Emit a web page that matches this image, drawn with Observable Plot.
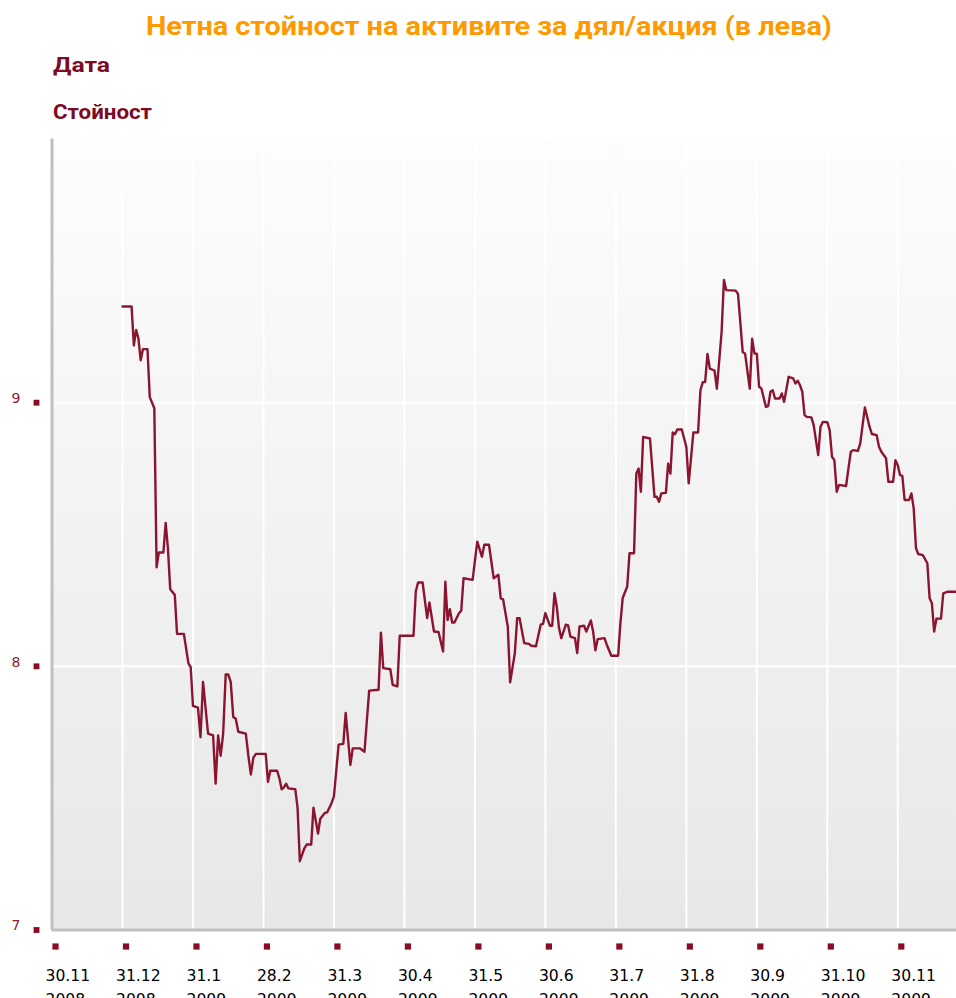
<!DOCTYPE html>
<html>
<head>
<meta charset="utf-8">
<script src="https://cdn.jsdelivr.net/npm/d3@7"></script>
<script src="https://cdn.jsdelivr.net/npm/@observablehq/plot@0.6"></script>
<style>
  html, body { margin: 0; padding: 0; background: #fff; }
  #wrap { position: relative; width: 956px; height: 998px; overflow: hidden; }
  #wrap svg { display: block; }
</style>
</head>
<body>
<div id="wrap"><div id="head"></div><div id="chart"></div></div>
<script>
// ---- data ----
const titleText = "Нетна стойност на активите за дял/акция (в лева)";
const xLabelText = "Дата";
const yLabelText = "Стойност";

const tickDates = ["2008-11-30","2008-12-31","2009-01-31","2009-02-28","2009-03-31","2009-04-30",
  "2009-05-31","2009-06-30","2009-07-31","2009-08-31","2009-09-30","2009-10-31","2009-11-30"];
const yTicks = [7, 8, 9];

const dates = [
  "2008-12-31","2009-01-04","2009-01-05","2009-01-06","2009-01-07","2009-01-08","2009-01-09","2009-01-11",
  "2009-01-12","2009-01-14","2009-01-15","2009-01-16","2009-01-18","2009-01-19","2009-01-20","2009-01-21",
  "2009-01-23","2009-01-24","2009-01-27","2009-01-29","2009-01-30","2009-01-31","2009-02-02","2009-02-03",
  "2009-02-04","2009-02-06","2009-02-08","2009-02-09","2009-02-10","2009-02-11","2009-02-12","2009-02-13",
  "2009-02-14","2009-02-15","2009-02-16","2009-02-17","2009-02-18","2009-02-21","2009-02-22","2009-02-23",
  "2009-02-24","2009-02-25","2009-03-01","2009-03-02","2009-03-03","2009-03-06","2009-03-07","2009-03-08",
  "2009-03-09","2009-03-10","2009-03-11","2009-03-14","2009-03-15","2009-03-16","2009-03-18","2009-03-19",
  "2009-03-21","2009-03-22","2009-03-24","2009-03-25","2009-03-27","2009-03-28","2009-03-30","2009-03-31",
  "2009-04-02","2009-04-04","2009-04-05","2009-04-07","2009-04-08","2009-04-11","2009-04-13","2009-04-15",
  "2009-04-19","2009-04-20","2009-04-21","2009-04-24","2009-04-25","2009-04-27","2009-04-28","2009-05-04",
  "2009-05-05","2009-05-06","2009-05-08","2009-05-10","2009-05-11","2009-05-13","2009-05-15","2009-05-17",
  "2009-05-18","2009-05-19","2009-05-20","2009-05-21","2009-05-22","2009-05-24","2009-05-25","2009-05-26",
  "2009-05-30","2009-06-01","2009-06-03","2009-06-04","2009-06-06","2009-06-08","2009-06-10","2009-06-11",
  "2009-06-12","2009-06-14","2009-06-15","2009-06-17","2009-06-18","2009-06-19","2009-06-21","2009-06-23",
  "2009-06-24","2009-06-26","2009-06-28","2009-06-29","2009-06-30","2009-07-02","2009-07-03","2009-07-04",
  "2009-07-05","2009-07-06","2009-07-07","2009-07-09","2009-07-10","2009-07-11","2009-07-13","2009-07-14",
  "2009-07-15","2009-07-17","2009-07-18","2009-07-20","2009-07-21","2009-07-22","2009-07-23","2009-07-26",
  "2009-07-27","2009-07-29","2009-08-01","2009-08-02","2009-08-03","2009-08-05","2009-08-06","2009-08-08",
  "2009-08-09","2009-08-10","2009-08-11","2009-08-12","2009-08-15","2009-08-17","2009-08-18","2009-08-19",
  "2009-08-20","2009-08-22","2009-08-23","2009-08-24","2009-08-25","2009-08-26","2009-08-27","2009-08-29",
  "2009-08-31","2009-09-01","2009-09-03","2009-09-05","2009-09-06","2009-09-07","2009-09-08","2009-09-09",
  "2009-09-10","2009-09-12","2009-09-13","2009-09-15","2009-09-16","2009-09-17","2009-09-21","2009-09-22",
  "2009-09-24","2009-09-25","2009-09-27","2009-09-28","2009-09-29","2009-09-30","2009-10-01","2009-10-02",
  "2009-10-04","2009-10-05","2009-10-06","2009-10-07","2009-10-08","2009-10-10","2009-10-11","2009-10-12",
  "2009-10-14","2009-10-16","2009-10-17","2009-10-18","2009-10-19","2009-10-20","2009-10-21","2009-10-22",
  "2009-10-24","2009-10-25","2009-10-27","2009-10-28","2009-10-29","2009-10-31","2009-11-01","2009-11-02",
  "2009-11-03","2009-11-04","2009-11-05","2009-11-08","2009-11-09","2009-11-10","2009-11-11","2009-11-13",
  "2009-11-14","2009-11-16","2009-11-18","2009-11-19","2009-11-21","2009-11-22","2009-11-23","2009-11-25",
  "2009-11-26","2009-11-28","2009-11-29","2009-11-30","2009-12-01","2009-12-02","2009-12-03","2009-12-05",
  "2009-12-06","2009-12-07","2009-12-08","2009-12-09","2009-12-11","2009-12-13","2009-12-14","2009-12-15",
  "2009-12-16","2009-12-17","2009-12-19","2009-12-20","2009-12-22","2009-12-27"
];
const values = [
  9.365,9.365,9.217,9.276,9.245,9.161,9.203,9.203,
  9.021,8.979,8.376,8.432,8.432,8.544,8.446,8.292,
  8.271,8.123,8.123,8.011,7.997,7.850,7.843,7.731,
  7.941,7.745,7.738,7.555,7.738,7.661,7.745,7.969,
  7.969,7.941,7.808,7.801,7.752,7.745,7.661,7.590,
  7.654,7.668,7.668,7.562,7.604,7.604,7.576,7.534,
  7.541,7.555,7.537,7.534,7.464,7.261,7.310,7.324,
  7.324,7.464,7.366,7.422,7.444,7.446,7.482,7.507,
  7.703,7.706,7.823,7.626,7.689,7.689,7.676,7.908,
  7.911,8.128,7.993,7.989,7.930,7.924,8.116,8.116,
  8.284,8.318,8.318,8.183,8.242,8.132,8.130,8.056,
  8.321,8.176,8.217,8.166,8.166,8.201,8.211,8.334,
  8.328,8.473,8.416,8.461,8.461,8.334,8.347,8.258,
  8.254,8.151,7.939,8.050,8.183,8.183,8.088,8.085,
  8.078,8.076,8.158,8.161,8.202,8.154,8.154,8.277,
  8.227,8.145,8.107,8.158,8.155,8.113,8.107,8.050,
  8.151,8.154,8.132,8.174,8.132,8.061,8.103,8.107,
  8.082,8.040,8.040,8.164,8.259,8.303,8.429,8.429,
  8.731,8.750,8.662,8.870,8.864,8.643,8.643,8.624,
  8.656,8.658,8.769,8.731,8.887,8.880,8.898,8.898,
  8.832,8.694,8.887,8.887,9.047,9.078,9.078,9.185,
  9.129,9.122,9.053,9.267,9.465,9.427,9.425,9.412,
  9.192,9.186,9.053,9.243,9.186,9.186,9.060,9.054,
  8.984,8.987,9.041,9.047,9.016,9.016,9.035,9.003,
  9.098,9.092,9.073,9.083,9.066,9.041,8.953,8.946,
  8.944,8.915,8.801,8.908,8.927,8.926,8.896,8.795,
  8.782,8.662,8.688,8.684,8.751,8.814,8.820,8.817,
  8.845,8.982,8.908,8.881,8.877,8.833,8.814,8.789,
  8.700,8.700,8.782,8.763,8.725,8.722,8.631,8.631,
  8.656,8.599,8.448,8.426,8.422,8.391,8.258,8.239,
  8.132,8.181,8.181,8.277,8.283,8.283
];

// ---- helpers ----
// Months are drawn with equal width: position = months since 30.11.2008 (end of month = integer).
function monthPos(s) {
  const [y, m, d] = s.split("-").map(Number);
  const n = new Date(y, m, 0).getDate();
  return (y - 2008) * 12 + (m - 12) + d / n;
}
function tickLabel(s) {
  const [y, m, d] = s.split("-").map(Number);
  return `${d}.${m}\n${y}`;
}
const series = dates.map((d, i) => ({ p: monthPos(d), v: values[i] }));
const tickPos = tickDates.map(monthPos);

// ---- header (title + axis names) ----
const HEAD_H = 130;
const head = d3.select("#head").append("svg")
  .attr("width", 956).attr("height", HEAD_H);
const fam = "Roboto, 'DejaVu Sans', sans-serif";
head.append("text").text(titleText)
  .attr("x", 146).attr("y", 35).attr("textLength", 686).attr("lengthAdjust", "spacingAndGlyphs")
  .attr("font-family", fam).attr("font-weight", "bold").attr("font-size", 25).attr("fill", "#ff9900");
head.append("text").text(xLabelText)
  .attr("x", 53).attr("y", 72).attr("textLength", 57).attr("lengthAdjust", "spacingAndGlyphs")
  .attr("font-family", fam).attr("font-weight", "bold").attr("font-size", 19.5).attr("fill", "#7d0a24");
head.append("text").text(yLabelText)
  .attr("x", 53).attr("y", 119).attr("textLength", 99).attr("lengthAdjust", "spacingAndGlyphs")
  .attr("font-family", fam).attr("font-weight", "bold").attr("font-size", 19.5).attr("fill", "#7d0a24");

// ---- chart ----
const H = 998 - HEAD_H;
const dark = "#8b0a26";
const chart = Plot.plot({
  width: 956,
  height: H,
  marginLeft: 51.5,
  marginRight: 0,
  marginTop: 138.5 - HEAD_H,
  marginBottom: H - (929.5 - HEAD_H),
  style: { background: "transparent", fontFamily: "'DejaVu Sans', Verdana, sans-serif", overflow: "hidden" },
  x: { type: "linear", domain: [0, 12.833], axis: null },
  y: { domain: [7, 10], axis: null },
  marks: [
    Plot.frame({ fill: "url(#bggrad)", stroke: "none" }),
    Plot.ruleX(tickPos.slice(1), { stroke: "#ffffff", strokeWidth: 2 }),
    Plot.ruleY(yTicks.slice(1), { stroke: "#ffffff", strokeWidth: 2 }),
    Plot.ruleX([0], { stroke: "#c0c0c0", strokeWidth: 3 }),
    Plot.ruleY([7], { stroke: "#c0c0c0", strokeWidth: 3 }),
    Plot.line(series, { x: "p", y: "v", stroke: "#8b1530", strokeWidth: 2.4, curve: "linear" }),
    // y ticks
    Plot.dot(yTicks, { y: d => d, frameAnchor: "left", dx: -15.5, symbol: "square", r: 3.3, fill: dark, stroke: "none" }),
    Plot.text(yTicks, { y: d => d, text: d => String(d), frameAnchor: "left", dx: -36, dy: -4,
      textAnchor: "middle", fill: "#8b1a30", fontSize: 14 }),
    // x ticks
    Plot.dot(tickPos, { x: d => d, frameAnchor: "bottom", dx: 3.5, dy: 16.5, symbol: "square", r: 3.5, fill: dark, stroke: "none" }),
    Plot.text(tickDates, { x: monthPos, text: tickLabel, frameAnchor: "bottom", textAnchor: "start",
      lineAnchor: "top", lineHeight: 1.53, dx: -6.5, dy: 34, fill: "#000", fontSize: 15.6 })
  ]
});

// gradient for plot background
const defs = d3.select(chart).insert("defs", ":first-child");
const g = defs.append("linearGradient").attr("id", "bggrad")
  .attr("x1", 0).attr("y1", 0).attr("x2", 0).attr("y2", 1);
g.append("stop").attr("offset", "0%").attr("stop-color", "#fdfdfd");
g.append("stop").attr("offset", "100%").attr("stop-color", "#e7e7e7");

document.getElementById("chart").appendChild(chart);
</script>
</body>
</html>
